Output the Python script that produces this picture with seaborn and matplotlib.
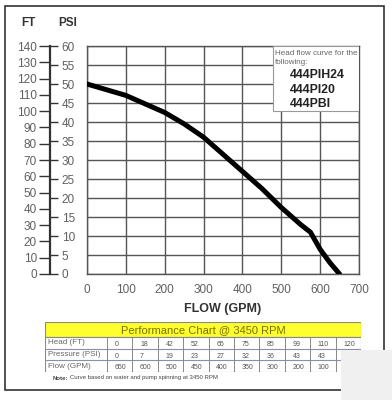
import numpy as np
import pandas as pd
import matplotlib
matplotlib.use("Agg")
import matplotlib.pyplot as plt
from matplotlib.patches import Rectangle
import seaborn as sns

# ---------------- data ----------------
flow_gpm = [0, 100, 200, 250, 300, 350, 400, 450, 500, 550, 575, 600, 625, 650]
pressure_psi = [50, 47, 42.5, 39.5, 36, 31.5, 27, 22.5, 17.5, 13, 11, 6.5, 3, 0]

x_ticks = [0, 100, 200, 300, 400, 500, 600, 700]
ft_ticks = [0, 10, 20, 30, 40, 50, 60, 70, 80, 90, 100, 110, 120, 130, 140]
psi_ticks = [0, 5, 10, 15, 20, 25, 30, 35, 40, 45, 50, 55, 60]

legend_small = ["Head flow curve for the", "following:"]
models = ["444PIH24", "444PI20", "444PBI"]

table_title = "Performance Chart @ 3450 RPM"
row_labels = ["Head (FT)", "Pressure (PSI)", "Flow (GPM)"]
head_ft = ["0", "18", "42", "52", "65", "75", "85", "99", "110", "120"]
pressure_row = ["0", "7", "19", "23", "27", "32", "36", "43", "43", ""]
flow_row = ["650", "600", "500", "450", "400", "350", "300", "200", "100", ""]
note_bold = "Note:"
note_text = "Curve based on water and pump spinning at 3450 RPM"

# ---------------- style ----------------
sns.set_style("white")
plt.rcParams["font.family"] = ["Liberation Sans", "DejaVu Sans"]

W, H = 392, 400
fig = plt.figure(figsize=(W / 100, H / 100), dpi=100)


def fx(px):
    return px / W


def fy(py):
    return 1 - py / H


grid_c = "#555555"
tick_c = "#606060"

# ---------------- main plot ----------------
L, R, T, B = 87, 359, 46, 274
ax = fig.add_axes([fx(L), fy(B), fx(R - L), (B - T) / H])
df = pd.DataFrame({"flow": flow_gpm, "psi": pressure_psi})
sns.lineplot(data=df, x="flow", y="psi", ax=ax, color="black", lw=3.6, zorder=5)
ax.set_xlim(0, 700)
ax.set_ylim(0, 60)
ax.set_xticks(x_ticks)
ax.set_yticks(psi_ticks)
ax.set_yticklabels([])
ax.tick_params(axis="y", length=0)
ax.tick_params(axis="x", length=0, pad=7, labelsize=8.5, labelcolor=tick_c)
ax.grid(True, color=grid_c, lw=1.0)
for s in ax.spines.values():
    s.set_color(grid_c)
    s.set_linewidth(1.0)
ax.set_xlabel("")
ax.set_ylabel("")

# legend box
ax.add_patch(Rectangle((0.684, 0.715), 0.316, 0.285, transform=ax.transAxes,
                       facecolor="white", edgecolor="#999999", lw=0.8, zorder=6))
lx = (275 - L) / (R - L)
for i, t in enumerate(legend_small):
    ax.text(lx, (B - (53 + 9 * i)) / (B - T), t, transform=ax.transAxes,
            fontsize=5.8, color="#666666", ha="left", va="center", zorder=7)
mx = (290 - L) / (R - L)
for i, t in enumerate(models):
    ax.text(mx, (B - (75 + 14.5 * i)) / (B - T), t, transform=ax.transAxes,
            fontsize=8.8, fontweight="bold", color="#222222", ha="left",
            va="center", zorder=7)

# ---------------- FT / PSI axes ----------------
ax_ft = fig.add_axes([fx(50), fy(B), 0.0001, (B - T) / H])
ax_ft.set_ylim(0, 140)
ax_ft.set_yticks(ft_ticks)
ax_ft.set_xticks([])
for k in ["top", "right", "bottom"]:
    ax_ft.spines[k].set_visible(False)
ax_ft.spines["left"].set_color("#333333")
ax_ft.spines["left"].set_linewidth(1.6)
ax_ft.tick_params(axis="y", direction="out", length=8, width=1.0, color="#333333",
                  pad=1.5, labelsize=8.5, labelcolor=tick_c)
ax_ft.patch.set_alpha(0)

ax_psi = ax_ft.twinx()
ax_psi.set_ylim(0, 60)
ax_psi.set_yticks(psi_ticks)
for k in ["top", "left", "bottom", "right"]:
    ax_psi.spines[k].set_visible(False)
ax_psi.tick_params(axis="y", direction="out", length=6, width=1.0, color="#333333",
                   pad=2.5, labelsize=8.5, labelcolor=tick_c, right=True,
                   labelright=True, left=False, labelleft=False)
ax_psi.patch.set_alpha(0)

fig.text(fx(28), fy(23), "FT", fontsize=8.5, fontweight="bold", color="#333333",
         ha="center", va="center")
fig.text(fx(68), fy(23), "PSI", fontsize=8.5, fontweight="bold", color="#333333",
         ha="center", va="center")
fig.text(fx((L + R) / 2), fy(309), "FLOW (GPM)", fontsize=9, fontweight="bold",
         color="#333333", ha="center", va="center")

# ---------------- table ----------------
TL, TR, TT, TB = 45, 361, 322, 372
axt = fig.add_axes([fx(TL), fy(TB), fx(TR - TL), (TB - TT) / H])
axt.set_xlim(0, TR - TL)
axt.set_ylim(TB - TT, 0)
axt.axis("off")
tw = TR - TL
title_h = 15
row_h = (TB - TT - title_h) / 3
label_w = 62
ncol = len(head_ft)
col_w = (tw - label_w) / ncol

axt.add_patch(Rectangle((0, 0), tw, title_h, facecolor="#ffff30",
                        edgecolor="#888888", lw=0.8))
axt.text(tw / 2, title_h / 2 + 0.5, table_title, fontsize=8, color="#7a7000",
         ha="center", va="center")
axt.add_patch(Rectangle((0, title_h), tw, TB - TT - title_h, facecolor="white",
                        edgecolor="#888888", lw=0.8))
for r in range(1, 3):
    yy = title_h + r * row_h
    axt.plot([0, tw], [yy, yy], color="#8a90aa", lw=0.8)
for c in range(ncol):
    xx = label_w + c * col_w
    axt.plot([xx, xx], [title_h, TB - TT], color="#888888", lw=0.7)

rows = [head_ft, pressure_row, flow_row]
for r, (lab, vals) in enumerate(zip(row_labels, rows)):
    yc = title_h + (r + 0.5) * row_h
    axt.text(3, yc, lab, fontsize=5.8, color="#666666", ha="left", va="center")
    for c, v in enumerate(vals):
        axt.text(label_w + c * col_w + 0.3 * col_w, yc + 1.5, v, fontsize=5,
                 color="#555555", ha="left", va="center")

fig.text(fx(53), fy(378), note_bold, fontsize=4.3, fontweight="bold",
         color="#444444", ha="left", va="center")
fig.text(fx(70), fy(378), note_text, fontsize=4.3, color="#444444",
         ha="left", va="center")

# ---------------- outer frame & smudge ----------------
fig.patches.append(Rectangle((fx(5), fy(390)), fx(379), 384 / H, transform=fig.transFigure,
                             fill=False, edgecolor="#333333", lw=1.2, zorder=2))
fig.patches.append(Rectangle((fx(341), fy(400)), fx(51), 50 / H, transform=fig.transFigure,
                             facecolor="#f0f0f0", edgecolor="none", zorder=3))

fig.savefig("out.png", dpi=100)
